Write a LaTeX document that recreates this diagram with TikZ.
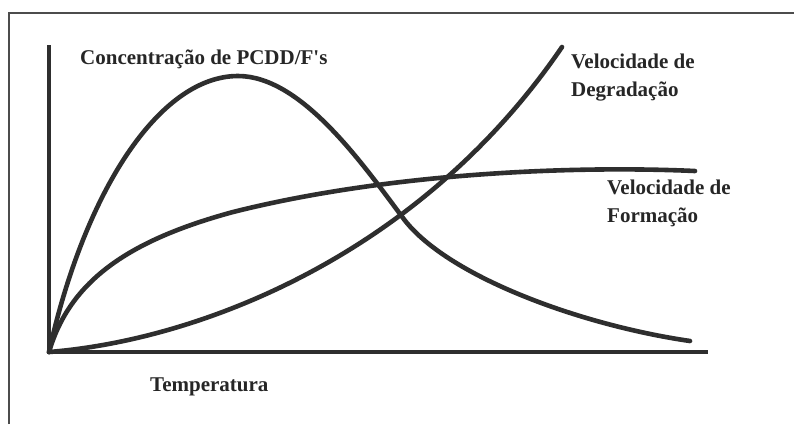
\documentclass[tikz,border=0pt]{standalone}
\usepackage{fontspec}
\setmainfont{Liberation Serif}[Ligatures=TeXOff]
\begin{document}
\begin{tikzpicture}[x=1pt,y=-1pt,
  curve/.style={line width=4.6pt,color=black!82,line cap=round,line join=round},
  axis/.style={line width=3.8pt,color=black!82},
  frame/.style={line width=1.4pt,color=black!70},
  lbl/.style={font=\bfseries\fontsize{21}{27.5}\selectfont,color=black!85,align=left,inner sep=0pt,anchor=base west}]
\useasboundingbox (0,0) rectangle (794,424);
\fill[white] (0,0) rectangle (794,424);
\coordinate (fa) at (9,424);
\coordinate (fb) at (9,13);
\coordinate (fc) at (794,13);
\draw[frame] (fa) -- (fb) -- (fc);
\coordinate (ytop) at (49,45);
\coordinate (o) at (49,352);
\coordinate (xend) at (708,352);
\draw[axis] (ytop) -- (o) -- (xend);
% concentration
\coordinate (cpk) at (238,76);
\coordinate (cx) at (403,218);
\coordinate (cend) at (690,341);
\draw[curve] (o) .. controls (85,190) and (160,76) .. (cpk)
  .. controls (300,76) and (360,160) .. (cx)
  .. controls (446,276) and (580,325) .. (cend);
% formation
\coordinate (fm) at (233,212);
\coordinate (fend) at (695,171);
\draw[curve] (o) .. controls (70,280) and (130,240) .. (fm)
  .. controls (380,175) and (560,165) .. (fend);
% degradation
\coordinate (dend) at (562,47);
\draw[curve] (o) .. controls (200,340) and (420,255) .. (dend);
\node[lbl] (conc) at (80,64) {Concentração de PCDD/F's};
\node[lbl] (deg) at (571,96) {Velocidade de\\Degradação};
\node[lbl] (form) at (607,222) {Velocidade de\\Formação};
\node[lbl] (temp) at (150,391) {Temperatura};
\end{tikzpicture}
\end{document}
